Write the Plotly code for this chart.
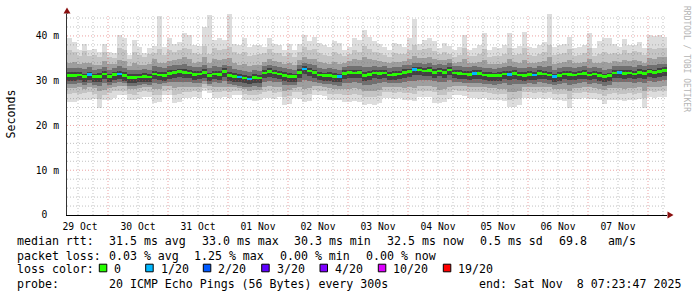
import plotly.graph_objects as go

# ---------------- data (2-hour bins, 29 Oct 07:23 -> 08 Nov 07:23) ----------------
# median RTT per bin (ms)
med = [31.2,31.2,31.3,30.9,31.4,30.9,31.0,31.5,30.9,31.4,
       31.5,31.2,30.7,30.7,30.8,31.0,30.8,31.5,31.3,31.2,
       31.6,31.8,32.0,31.9,31.7,31.4,31.5,31.9,31.1,31.5,
       31.4,32.1,31.2,31.0,30.8,30.6,30.4,30.7,30.6,31.7,
       32.1,31.7,31.5,31.2,31.0,30.9,31.9,32.6,32.2,31.8,
       31.3,31.1,31.2,31.0,30.9,31.6,31.8,31.7,31.8,31.2,
       31.4,31.7,31.6,31.7,31.3,31.4,31.5,31.9,32.0,32.5,
       32.4,32.2,32.3,31.9,32.2,31.9,32.4,31.7,31.6,31.5,
       31.4,31.6,31.6,31.3,31.2,31.1,31.2,31.5,31.4,31.6,
       31.3,31.2,31.4,31.3,31.6,31.5,31.3,30.9,31.2,31.5,
       31.4,31.3,31.5,31.6,31.3,31.5,31.2,30.9,31.1,31.7,
       31.8,31.6,31.7,31.5,31.9,31.6,32.0,31.8,32.1,32.3]

# lost pings (of 20) per bin
loss = [0,0,0,0,1,0,0,0,0,0,
        1,0,0,0,0,0,0,0,0,0,
        0,0,0,0,0,0,0,0,0,0,
        0,0,0,0,1,0,1,0,0,0,
        0,0,0,0,0,0,0,1,0,0,
        0,0,0,0,1,0,0,0,0,0,
        0,0,0,0,0,0,0,0,0,1,
        0,0,0,0,0,0,0,0,0,0,
        0,1,0,0,0,0,0,0,1,0,
        0,0,0,1,0,0,0,1,0,0,
        0,0,0,0,0,0,0,0,0,0,
        1,0,0,0,0,0,0,0,0,0]

# smoke: slowest / fastest ping per bin
rtt_max = [39.5,38.7,36.9,38.1,36.9,37.0,36.5,38.3,36.5,36.2,
           40.2,39.5,35.8,39.1,37.5,36.2,37.3,37.8,44.5,37.6,
           39.5,38.3,38.7,40.6,40.2,38.0,37.8,42.1,44.7,39.0,
           39.5,39.0,44.9,38.3,38.0,39.5,37.6,38.0,38.0,37.6,
           39.5,38.2,38.0,36.9,38.3,36.9,38.3,40.2,38.8,39.8,
           38.5,38.0,37.6,38.8,38.5,36.9,37.6,39.5,39.0,41.3,
           39.8,38.8,38.2,37.6,36.9,38.5,38.3,37.6,39.5,43.8,
           38.3,39.1,39.5,38.8,37.3,38.5,37.8,36.9,37.5,40.2,
           36.9,37.2,38.0,40.6,36.9,37.5,37.2,38.0,40.6,37.2,
           37.8,40.9,37.5,37.2,38.0,38.6,44.8,37.5,38.0,38.2,
           39.8,37.2,37.5,38.0,40.6,37.2,38.8,39.5,39.5,38.2,
           37.6,39.3,38.0,38.0,38.6,37.2,40.2,40.0,40.2,39.8]
rtt_min = [25.3,25.3,25.7,25.7,25.7,26.0,23.9,25.7,25.7,26.2,
           26.8,26.8,25.7,25.7,26.0,26.4,26.4,25.1,25.3,26.8,
           26.8,25.0,25.3,26.1,26.1,26.3,26.1,27.6,27.2,26.1,
           26.1,26.3,26.1,26.8,26.8,25.7,25.7,25.5,25.7,26.1,
           26.1,26.0,26.3,24.6,24.8,26.1,26.0,25.3,25.5,26.8,
           26.8,26.5,25.7,25.7,25.7,25.3,25.3,25.5,25.3,24.6,
           24.8,24.6,25.0,26.1,26.1,25.9,26.1,25.7,25.7,25.5,
           26.4,26.4,26.4,25.0,25.0,25.3,26.0,26.8,26.8,26.6,
           26.1,26.1,26.0,26.1,25.7,25.7,25.7,25.5,24.2,24.2,
           24.6,26.1,26.1,25.9,26.1,26.0,26.1,25.7,25.7,25.5,
           24.0,25.9,25.9,26.1,26.0,25.9,25.7,24.8,25.7,25.7,
           25.7,25.5,25.7,25.7,26.0,24.0,26.4,26.2,26.4,26.4]
# inner smoke layers (upper / lower edges)
hi1 = [36.8,36.5,35.6,36.6,35.5,35.8,35.2,36.4,35.3,35.0,
       37.2,36.9,34.9,36.5,35.8,35.2,35.9,36.2,37.0,35.8,
       36.9,36.5,36.8,37.4,37.0,36.2,36.0,37.8,36.0,37.2,
       36.8,37.0,37.6,36.4,36.0,36.5,35.5,35.8,35.9,36.2,
       37.0,36.3,36.1,35.5,36.2,35.4,36.5,37.5,36.8,37.0,
       36.2,35.8,35.6,36.4,36.0,35.5,35.9,36.8,36.5,37.8,
       37.0,36.5,36.2,35.8,35.3,36.2,36.0,35.9,36.9,38.0,
       36.8,37.0,37.2,36.6,35.9,36.4,36.0,35.4,35.8,37.2,
       35.5,35.6,36.0,37.0,35.4,35.6,35.5,36.0,37.2,35.8,
       36.0,37.2,35.8,35.6,36.0,36.4,38.0,35.8,36.0,36.2,
       37.0,35.6,35.8,36.2,37.2,35.6,36.0,36.5,36.0,36.2,
       35.9,36.8,36.2,36.6,36.4,35.8,37.2,37.0,37.4,37.2]
lo1 = [27.0,27.2,27.0,27.3,27.5,27.1,26.0,26.8,27.2,27.6,
       27.8,27.8,27.0,26.9,27.4,27.6,27.5,26.8,26.9,27.8,
       27.9,26.8,27.0,27.4,27.4,27.6,27.5,28.3,28.0,27.5,
       27.4,27.6,27.5,27.8,27.6,27.0,26.8,26.9,27.0,27.4,
       27.6,27.3,27.5,26.4,26.6,27.4,27.5,26.9,27.0,27.9,
       27.8,27.6,27.1,27.0,27.0,26.8,26.8,27.0,26.9,26.3,
       26.4,26.4,26.6,27.4,27.5,27.3,27.4,27.2,27.3,27.0,
       27.6,27.7,27.6,27.5,26.7,26.9,27.4,27.9,27.8,27.8,
       27.5,27.4,27.4,27.5,27.2,27.1,27.0,27.0,25.8,25.9,
       26.2,27.4,27.5,27.3,27.4,27.3,27.5,27.1,27.0,27.0,
       26.0,27.2,27.2,27.4,27.3,27.2,27.0,26.6,27.1,27.2,
       27.1,27.0,27.2,27.1,27.3,26.2,27.6,27.5,27.6,27.6]
hi2 = [34.0,34.2,33.8,34.0,33.9,33.6,33.5,34.3,33.7,33.8,
       34.6,34.4,33.2,34.0,33.6,33.4,33.8,34.8,34.0,33.9,
       34.5,34.6,34.8,35.2,34.8,34.0,34.1,35.4,33.9,34.9,
       34.6,34.8,35.0,33.9,33.6,33.8,33.2,33.4,33.5,34.2,
       34.9,34.3,34.2,33.8,34.0,33.5,34.6,35.4,34.9,34.8,
       34.2,33.9,33.8,34.2,33.8,34.0,34.3,34.8,34.6,35.2,
       34.8,34.6,34.3,34.2,33.9,34.2,34.1,34.4,34.9,35.6,
       35.0,35.0,35.2,34.8,34.6,34.6,34.8,34.0,34.2,34.8,
       33.9,34.0,34.2,34.6,33.8,33.8,33.8,34.0,34.8,34.1,
       34.0,34.6,34.0,33.9,34.2,34.3,35.2,33.8,33.9,34.2,
       34.6,33.9,34.0,34.2,34.8,34.0,34.0,34.2,33.9,34.3,
       34.2,34.6,34.4,34.6,34.5,34.0,35.0,34.8,35.2,35.3]
lo2 = [28.3,28.4,28.5,28.2,28.6,28.3,27.6,28.0,28.4,28.6,
       28.8,28.8,28.2,28.1,28.4,28.6,28.5,28.2,28.2,28.8,
       28.9,28.4,28.5,28.6,28.6,28.6,28.6,29.2,28.8,28.6,
       28.5,28.7,28.5,28.6,28.4,28.1,27.8,27.9,28.0,28.6,
       28.8,28.5,28.6,27.8,27.9,28.4,28.6,28.2,28.4,28.9,
       28.8,28.6,28.3,28.2,28.1,28.2,28.2,28.3,28.2,27.7,
       27.8,27.8,28.0,28.5,28.6,28.5,28.5,28.4,28.5,28.4,
       28.8,28.8,28.8,28.7,28.0,28.2,28.6,28.9,28.8,28.8,
       28.6,28.5,28.5,28.6,28.4,28.3,28.2,28.2,27.4,27.5,
       27.8,28.5,28.6,28.5,28.6,28.5,28.6,28.2,28.2,28.2,
       27.6,28.4,28.4,28.6,28.5,28.4,28.2,27.9,28.3,28.4,
       28.3,28.2,28.4,28.3,28.5,27.8,28.7,28.6,28.7,28.8]
hi3 = [32.8,32.9,32.9,32.6,33.0,32.5,32.6,33.1,32.5,32.9,
       33.2,32.9,32.3,32.5,32.4,32.6,32.4,33.2,33.0,32.8,
       33.2,33.4,33.6,33.7,33.3,33.0,33.0,33.6,32.8,33.2,
       33.0,33.6,33.2,32.6,32.4,32.2,32.0,32.3,32.2,33.2,
       33.6,33.2,33.1,32.8,32.6,32.5,33.4,34.0,33.7,33.4,
       32.9,32.7,32.8,32.7,32.5,33.1,33.3,33.3,33.3,33.0,
       33.0,33.2,33.1,33.2,32.9,33.0,33.0,33.4,33.6,33.9,
       33.9,33.8,33.9,33.5,33.7,33.4,33.9,33.2,33.2,33.1,
       33.0,33.2,33.1,32.9,32.8,32.7,32.8,33.0,33.2,33.1,
       32.9,32.8,33.0,32.9,33.2,33.1,33.2,32.5,32.8,33.1,
       33.0,32.9,33.1,33.2,32.9,33.1,32.8,32.5,32.7,33.2,
       33.3,33.2,33.3,33.1,33.5,33.2,33.6,33.4,33.7,33.8]
lo3 = [29.2,29.3,29.4,29.0,29.4,29.0,28.8,29.4,29.0,29.5,
       29.6,29.4,28.9,28.8,29.0,29.2,29.0,29.4,29.3,29.4,
       29.7,29.6,29.8,29.8,29.7,29.5,29.5,30.0,29.3,29.6,
       29.5,29.9,29.3,29.1,28.9,28.7,28.5,28.8,28.7,29.7,
       30.0,29.7,29.6,29.0,29.0,29.0,29.8,30.2,29.9,29.8,
       29.5,29.2,29.2,29.1,28.9,29.4,29.5,29.6,29.5,29.0,
       29.1,29.3,29.4,29.6,29.4,29.4,29.5,29.8,29.9,30.0,
       30.2,30.1,30.2,29.9,29.8,29.8,30.2,29.7,29.6,29.5,
       29.4,29.5,29.5,29.3,29.2,29.1,29.2,29.4,29.0,29.2,
       29.2,29.2,29.4,29.3,29.6,29.5,29.3,29.0,29.2,29.4,
       29.1,29.3,29.4,29.6,29.3,29.4,29.2,28.9,29.1,29.6,
       29.7,29.6,29.7,29.5,29.8,29.4,29.9,29.8,30.0,30.1]
hi4 = [31.9,31.9,32.0,31.6,32.0,31.6,31.7,32.1,31.6,32.0,
       32.2,31.9,31.4,31.4,31.5,31.7,31.5,32.2,32.0,31.9,
       32.3,32.5,32.7,32.6,32.4,32.1,32.2,32.6,31.8,32.2,
       32.1,32.8,31.9,31.7,31.5,31.3,31.1,31.4,31.3,32.4,
       32.8,32.4,32.2,31.9,31.7,31.6,32.6,33.3,32.9,32.5,
       32.0,31.8,31.9,31.7,31.6,32.3,32.5,32.4,32.5,31.9,
       32.1,32.4,32.3,32.4,32.0,32.1,32.2,32.6,32.7,33.1,
       33.1,32.9,33.0,32.6,32.9,32.6,33.1,32.4,32.3,32.2,
       32.1,32.3,32.3,32.0,31.9,31.8,31.9,32.2,32.1,32.3,
       32.0,31.9,32.1,32.0,32.3,32.2,32.0,31.6,31.9,32.2,
       32.1,32.0,32.2,32.3,32.0,32.2,31.9,31.6,31.8,32.4,
       32.5,32.3,32.4,32.2,32.6,32.3,32.7,32.5,32.8,33.0]
lo4 = [30.0,30.0,30.1,29.7,30.2,29.7,29.8,30.3,29.7,30.2,
       30.3,30.0,29.5,29.5,29.6,29.8,29.6,30.3,30.1,30.0,
       30.4,30.6,30.8,30.7,30.5,30.2,30.3,30.7,29.9,30.3,
       30.2,30.9,30.0,29.8,29.6,29.4,29.2,29.5,29.4,30.5,
       30.9,30.5,30.3,30.0,29.8,29.7,30.7,31.4,31.0,30.6,
       30.1,29.9,30.0,29.8,29.7,30.4,30.6,30.5,30.6,30.0,
       30.2,30.5,30.4,30.5,30.1,30.2,30.3,30.7,30.8,31.2,
       31.2,31.0,31.1,30.7,31.0,30.7,31.2,30.5,30.4,30.3,
       30.2,30.4,30.4,30.1,30.0,29.9,30.0,30.3,30.2,30.4,
       30.1,30.0,30.2,30.1,30.4,30.3,30.1,29.7,30.0,30.3,
       30.2,30.1,30.3,30.4,30.1,30.3,30.0,29.7,29.9,30.5,
       30.6,30.4,30.5,30.3,30.7,30.4,30.8,30.6,30.9,31.1]

# x axis labels (day names)
day_labels = ["29 Oct", "30 Oct", "31 Oct", "01 Nov", "02 Nov",
              "03 Nov", "04 Nov", "05 Nov", "06 Nov", "07 Nov"]
y_tick_labels = ["0\u00a0\u00a0", "10 m", "20 m", "30 m", "40 m"]

loss_levels = ["0", "1/20", "2/20", "3/20", "4/20", "10/20", "19/20"]
loss_colors = ["#26ff00", "#00b8ff", "#0059ff", "#5e00ff", "#7e00ff", "#dd00ff", "#ff0000"]

legend_line1 = ["median rtt:", "31.5 ms avg", "33.0 ms max", "30.3 ms min",
                "32.5 ms now", "0.5 ms sd", "69.8", "am/s"]
legend_line2 = ["packet loss:", "0.03 % avg", "1.25 % max", "0.00 % min", "0.00 % now"]
legend_line4 = ["probe:", "20 ICMP Echo Pings (56 Bytes) every 300s",
                "end: Sat Nov  8 07:23:47 2025"]

# ---------------- geometry ----------------
W, H = 697, 297
L, T, PW, PH = 67, 14, 600, 201
YMAX = 44.9
BIN_H = 2                      # hours per bin
first_midnight = 16.4          # hours after start
xs = [BIN_H * i + BIN_H / 2 for i in range(len(med))]


def px(xp):
    return (xp - L) / PW


def py(yp):
    return (T + PH - yp) / PH


MONO = "DejaVu Sans Mono"
fig = go.Figure()

bands = [(rtt_min, rtt_max, "#dddddd"), (lo1, hi1, "#c4c4c4"),
         (lo2, hi2, "#9e9e9e"), (lo3, hi3, "#707070"), (lo4, hi4, "#424242")]
for lo, hi, col in bands:
    fig.add_trace(go.Bar(x=xs, base=lo, y=[h - l for l, h in zip(lo, hi)],
                         width=BIN_H, marker=dict(color=col, line=dict(width=0)),
                         showlegend=False, hoverinfo="skip"))

loss_map = {0: loss_colors[0], 1: loss_colors[1], 2: loss_colors[2], 3: loss_colors[3],
            4: loss_colors[4], 10: loss_colors[5], 19: loss_colors[6]}
med_h = 0.6
fig.add_trace(go.Bar(x=xs, base=[m - med_h / 2 for m in med], y=[med_h] * len(med),
                     width=BIN_H, marker=dict(color=[loss_map[v] for v in loss], line=dict(width=0)),
                     showlegend=False, hoverinfo="skip"))

shapes = []
GRAY = "rgba(120,120,120,0.45)"
RED = "rgba(220,70,70,0.5)"
DASH = "1px,2px"
# vertical grid every 6 h, red at midnight
h = first_midnight - 12
while h < 240:
    major = abs(((h - first_midnight) / 24) - round((h - first_midnight) / 24)) < 1e-6
    shapes.append(dict(type="line", xref="x", yref="paper", x0=h, x1=h, y0=0, y1=1,
                       line=dict(color=RED if major else GRAY, width=1, dash=DASH), layer="above"))
    h += 6
# horizontal grid every 2 ms, red every 10
for v in range(2, 45, 2):
    shapes.append(dict(type="line", xref="paper", yref="y", x0=0, x1=1, y0=v, y1=v,
                       line=dict(color=RED if v % 10 == 0 else GRAY, width=1, dash=DASH), layer="above"))

# axis arrows
ARROW = "#8b1010"
shapes.append(dict(type="path", xref="paper", yref="paper",
                   path=f"M {px(63.5)} {py(13.5)} L {px(67)} {py(7.5)} L {px(70.5)} {py(13.5)} Z",
                   fillcolor=ARROW, line=dict(width=0), layer="above"))
shapes.append(dict(type="path", xref="paper", yref="paper",
                   path=f"M {px(667.5)} {py(211.5)} L {px(673.5)} {py(215)} L {px(667.5)} {py(218.5)} Z",
                   fillcolor=ARROW, line=dict(width=0), layer="above"))
shapes.append(dict(type="line", xref="paper", yref="paper", x0=0, x1=0, y0=1, y1=py(13),
                   line=dict(color="#333333", width=1), layer="above"))

annotations = []


def text(s, x, y, size=11.6, anchor="left", color="#000000", angle=0):
    annotations.append(dict(text=s, x=px(x), y=py(y), xref="paper", yref="paper",
                            xanchor=anchor, yanchor="middle", showarrow=False, textangle=angle,
                            borderpad=0, font=dict(family=MONO, size=size, color=color)))


line1_x = [16, 107.7, 200.7, 293.3, 386, 479.3, 558.3, 606.7]
for s, x in zip(legend_line1, line1_x):
    text(s, x, 241)
line2_x = [16, 107.7, 193.3, 279.3, 365]
for s, x in zip(legend_line2, line2_x):
    text(s, x, 256)
text("loss color:", 16, 269)
box_x = [99.3, 145.7, 203.3, 261.7, 320, 378.3, 443.3]
for lab, col, bx in zip(loss_levels, loss_colors, box_x):
    shapes.append(dict(type="rect", xref="paper", yref="paper",
                       x0=px(bx), x1=px(bx + 7.5), y0=py(271.8), y1=py(264.2),
                       fillcolor=col, line=dict(color="#000000", width=1), layer="above"))
    text(lab, bx + 14, 269)
text(legend_line4[0], 16, 284)
text(legend_line4[1], 107.7, 284)
text(legend_line4[2], 681.5, 284, anchor="right")

text("Seconds", 10.5, 114, anchor="center", angle=-90)
text("RRDTOOL / TOBI OETIKER", 686, 59, size=8.0, color="#b4b4b4", anchor="center", angle=90)

label_pos = [5.2] + [first_midnight + 12 + 24 * k for k in range(len(day_labels) - 1)]

fig.update_layout(
    width=W, height=H, margin=dict(l=L, r=W - L - PW, t=T, b=H - T - PH, pad=0),
    paper_bgcolor="#ffffff", plot_bgcolor="#ffffff", barmode="overlay", bargap=0,
    shapes=shapes, annotations=annotations, showlegend=False,
    xaxis=dict(range=[0, 240], showgrid=False, zeroline=False, showline=True,
               linecolor="#000000", linewidth=1, tickvals=label_pos, ticktext=day_labels,
               ticks="", tickfont=dict(family=MONO, size=9.7, color="#000000"),
               ticklabelstandoff=2, fixedrange=True),
    yaxis=dict(range=[0, YMAX], showgrid=False, zeroline=False, showline=True,
               linecolor="#333333", linewidth=1, tickvals=[0, 10, 20, 30, 40],
               ticktext=y_tick_labels, ticks="", ticklabelstandoff=5,
               tickfont=dict(family=MONO, size=9.7, color="#000000"), fixedrange=True),
)

fig.write_html("out.html")
